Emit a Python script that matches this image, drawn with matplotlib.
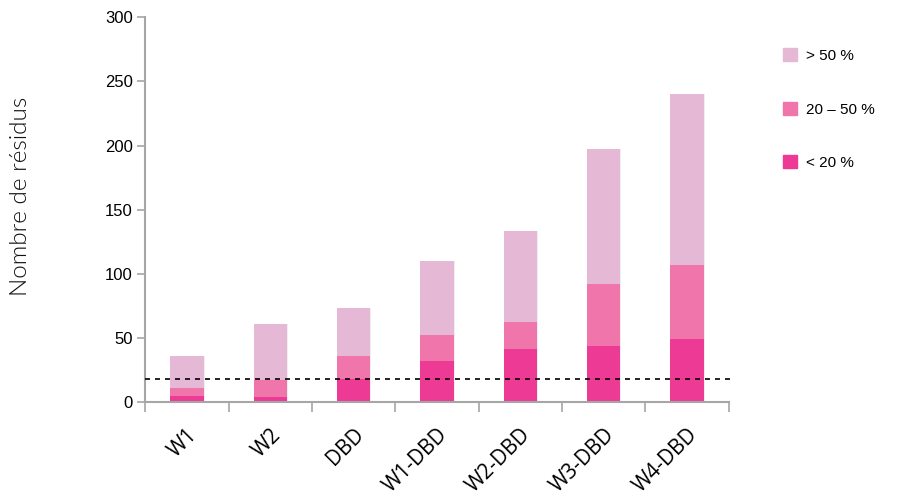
import matplotlib
matplotlib.use('Agg')
import matplotlib.pyplot as plt
import numpy as np
from matplotlib.patches import Patch

# data (residue counts per construct)
categories = ['W1', 'W2', 'DBD', 'W1-DBD', 'W2-DBD', 'W3-DBD', 'W4-DBD']
bottom_vals = [5, 4, 18, 32, 41, 44, 49]
middle_vals = [6, 13, 18, 20, 21, 48, 58]
top_vals = [25, 44, 37, 58, 71, 105, 133]
legend_labels = ['> 50 %', '20 – 50 %', '< 20 %']
yticks = [0, 50, 100, 150, 200, 250, 300]
threshold = 18

c_top = '#E5B8D5'
c_mid = '#F075AA'
c_bot = '#EC3A95'
grey = '#A6A6A6'

fig = plt.figure(figsize=(9.19, 5.04), dpi=100)
ax = fig.add_axes([0.158, 0.2024, 0.635, 0.7633])

x = np.arange(len(categories))
bottom_vals = np.array(bottom_vals)
middle_vals = np.array(middle_vals)
top_vals = np.array(top_vals)
totals = bottom_vals + middle_vals + top_vals
w = 0.4

# faint drop shadow behind the bars
ax.bar(x + 0.012, totals, width=w, color='#999999', alpha=0.15, zorder=1)
ax.bar(x, bottom_vals, width=w, color=c_bot, zorder=2)
ax.bar(x, middle_vals, width=w, bottom=bottom_vals, color=c_mid, zorder=2)
ax.bar(x, top_vals, width=w, bottom=bottom_vals + middle_vals, color=c_top, zorder=2)

ax.plot([-0.5, 6.58], [threshold, threshold], color='black', linestyle=(0, (3, 3)),
        linewidth=1.2, zorder=3, clip_on=False)

ax.set_xlim(-0.5, 6.5)
ax.set_ylim(0, 300)

for s in ['top', 'right']:
    ax.spines[s].set_visible(False)
for s in ['left', 'bottom']:
    ax.spines[s].set_color(grey)
    ax.spines[s].set_linewidth(1.5)

ax.set_yticks(yticks)
ax.set_yticklabels([str(v) for v in yticks], fontsize=12, fontfamily='Liberation Sans')
ax.tick_params(axis='y', colors=grey, length=6, width=1.2, labelcolor='black', pad=3)

ax.set_xticks(x)
ax.set_xticklabels(categories, rotation=45, ha='right', rotation_mode='anchor',
                   fontsize=15, fontfamily='Open Sans')
ax.tick_params(axis='x', which='major', length=0, pad=16)
ax.set_xticks(np.arange(-0.5, 7, 1), minor=True)
ax.tick_params(axis='x', which='minor', colors=grey, length=7, width=1.2)

ax.set_ylabel('Nombre de résidus', fontsize=17.5, fontfamily='Lato', fontweight=300,
              color='#111111')
ax.yaxis.set_label_coords(-0.196, 0.535)

handles = [Patch(color=c_top), Patch(color=c_mid), Patch(color=c_bot)]
ax.legend(handles, legend_labels, loc='upper left', bbox_to_anchor=(1.07, 0.955),
          frameon=False, handlelength=0.9, handleheight=0.9,
          labelspacing=2.55, handletextpad=0.6, prop={'family': 'Liberation Sans', 'size': 11})

fig.savefig('out.png', dpi=100)
